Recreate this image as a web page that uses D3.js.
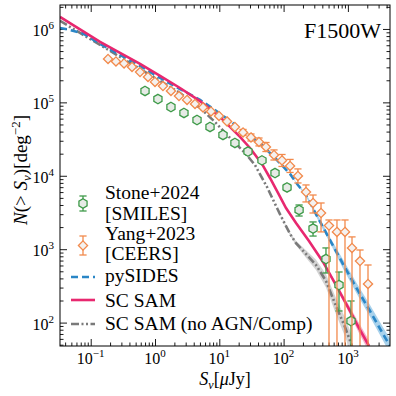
<!DOCTYPE html>
<html>
<head>
<meta charset="utf-8">
<script src="https://d3js.org/d3.v7.min.js"></script>
<style>
  body { margin:0; background:#fff; }
  svg { font-family: "Liberation Serif", "DejaVu Serif", serif; }
</style>
</head>
<body>
<div id="chart"></div>
<script>
// Yang+2023 [CEERS] cumulative counts
const yangFlux = [0.186, 0.247, 0.330, 0.439, 0.585, 0.778, 1.00, 1.33, 1.77, 2.36, 3.15, 4.19, 5.58, 7.43, 9.89, 13.2, 17.5,
                  23.4, 31.1, 41.4, 53.2, 70.9, 94.4, 126, 167, 223, 287, 382, 508, 676, 901, 1158, 1542, 2054];
const yangN = [390e3, 361e3, 339e3, 304e3, 259e3, 222e3, 190e3, 167e3, 143e3, 122e3, 108e3, 95.1e3, 85.2e3, 75.2e3, 65.3e3, 55.0e3, 46.2e3,
               38.9e3, 33.3e3, 28.9e3, 24.7e3, 19.2e3, 16.2e3, 13.6e3, 9.94e3, 6.01e3, 4.26e3, 3.11e3, 2.10e3, 1.72e3, 1.72e3, 1.04e3, 690, 336];
const yangHi = [null, null, null, null, null, null, null, null, null, null, null, null, null, null, null, null, null,
                42.8e3, 37.1e3, 32.7e3, 28.4e3, 22.5e3, 19.5e3, 16.7e3, 12.4e3, 7.50e3, 5.47e3, 4.26e3, 2.50e3, 2.50e3, 2.50e3, 1.47e3, 975, 609];
const yangLo = [null, null, null, null, null, null, null, null, null, null, null, null, null, null, null, null, null,
                35.4e3, 29.8e3, 25.5e3, 21.4e3, 16.4e3, 13.4e3, 11.1e3, 7.98e3, 4.40e3, 3.11e3, 1.72e3, 0, 0, 0, 0, 0, 0];

// Stone+2024 [SMILES]
const stoneFlux = [0.699, 1.11, 1.77, 2.82, 4.50, 7.17, 11.4, 17.5, 27.9, 46.1, 73.5, 113, 174, 287, 456, 727, 1117];
const stoneN = [143e3, 111e3, 86.5e3, 71.7e3, 57.5e3, 46.2e3, 36.0e3, 28.0e3, 21.4e3, 16.2e3, 10.9e3, 6.93e3, 3.42e3, 1.91e3, 734, 325, 105];
const stoneHi = [null, null, null, null, null, null, null, null, null, null, null, 7.61e3, 4.00e3, 2.35e3, 1.04e3, 489, 197];
const stoneLo = [null, null, null, null, null, null, null, null, null, null, null, 6.31e3, 2.83e3, 1.51e3, 474, 144, 0];

// pySIDES (band half-width in dex)
const sidesFlux = [0.0333, 0.0477, 0.0759, 0.140, 0.286, 0.585, 1.20, 2.45, 5.01, 8.57, 14.7, 25.1, 42.9, 78.9, 126, 167,
                   223, 331, 527, 839, 1386, 2207, 3513, 4514];
const sidesN = [1.03e6, 9.69e5, 8.68e5, 6.25e5, 4.42e5, 3.13e5, 2.15e5, 1.52e5, 1.08e5, 7.87e4, 5.58e4, 3.83e4, 2.80e4, 1.64e4, 1.06e4, 7.50e3,
                5.48e3, 2.83e3, 1.33e3, 628, 287, 144, 70.0, 48.0];
const sidesBand = [0, 0, 0, 0, 0, 0, 0, 0, 0, 0, 0, 0, 0, 0, 0, 0.01, 0.02, 0.03, 0.04, 0.06, 0.07, 0.08, 0.09, 0.10];

// SC SAM
const samFlux = [0.0333, 0.0682, 0.140, 0.286, 0.585, 1.20, 2.45, 5.01, 10.3, 21.0, 30.0, 46.1, 61.4, 81.8, 109, 156, 248, 410, 653, 1040, 1489, 2129];
const samN = [1.46e6, 9.84e5, 6.66e5, 4.71e5, 3.34e5, 2.29e5, 1.57e5, 1.04e5, 6.32e4, 3.38e4, 2.39e4, 1.45e4, 9.33e3, 5.83e3, 3.64e3, 2.28e3,
              1.29e3, 670, 325, 153, 84.3, 48.0];
const samBand = [0, 0, 0, 0, 0, 0, 0, 0, 0, 0, 0, 0, 0, 0, 0, 0, 0.01, 0.02, 0.03, 0.05, 0.07, 0.08];

// SC SAM (no AGN/Comp)
const noAgnFlux = [0.0333, 0.0682, 0.140, 0.286, 0.585, 1.20, 2.45, 5.01, 8.57, 14.7, 25.1, 35.9, 55.2, 78.9, 101, 126, 156,
                   223, 319, 456, 653, 901, 1158];
const noAgnN = [1.29e6, 8.83e5, 6.06e5, 4.16e5, 2.85e5, 1.96e5, 1.34e5, 8.39e4, 5.41e4, 3.27e4, 2.05e4, 1.40e4, 7.04e3, 3.64e3, 2.35e3, 1.61e3, 1.21e3,
                861, 610, 369, 168, 87.1, 48.0];
const noAgnBand = [0, 0, 0, 0, 0, 0, 0, 0, 0, 0, 0, 0, 0, 0, 0.01, 0.02, 0.03, 0.05, 0.07, 0.09, 0.11, 0.13, 0.14];

const xMajor = [0.1, 1, 10, 100, 1000];
const yMajor = [1e2, 1e3, 1e4, 1e5, 1e6];

const W = 396, H = 396;
const margin = {top: 5, right: 6, bottom: 50, left: 60};
const innerW = W - margin.left - margin.right;
const innerH = H - margin.top - margin.bottom;

const cBlue = "#2a86c6", cPink = "#e8286f", cGray = "#7a7a7a", cOrange = "#f28a4c", cGreen = "#3e9a49";

const svg = d3.select("#chart").append("svg").attr("width", W).attr("height", H);
const g = svg.append("g").attr("transform", `translate(${margin.left},${margin.top})`);

svg.append("defs").append("clipPath").attr("id", "clip")
  .append("rect").attr("width", innerW).attr("height", innerH);

const x = d3.scaleLog().domain([0.0333, 4515]).range([0, innerW]);
const y = d3.scaleLog().domain([48, 2.12e6]).range([innerH, 0]);

function minorTicks(scale) {
  const [a, b] = scale.domain();
  const out = [];
  for (let e = Math.floor(Math.log10(a)); e <= Math.ceil(Math.log10(b)); e++)
    for (let k = 2; k <= 9; k++) {
      const v = k * Math.pow(10, e);
      if (v >= a && v <= b) out.push(v);
    }
  return out;
}

// inward ticks on all four sides
function addTicks(axisFn, scale, values, size, tr) {
  g.append("g").attr("transform", tr)
    .call(axisFn(scale).tickValues(values).tickSizeInner(size).tickSizeOuter(0).tickFormat(""))
    .call(s => s.select(".domain").remove())
    .call(s => s.selectAll("line").attr("stroke", "#000").attr("stroke-width", 0.9));
}
[[xMajor, -7], [minorTicks(x), -3.5]].forEach(([v, s]) => {
  addTicks(d3.axisBottom, x, v, s, `translate(0,${innerH})`);
  addTicks(d3.axisTop, x, v, s, "translate(0,0)");
});
[[yMajor, -7], [minorTicks(y), -3.5]].forEach(([v, s]) => {
  addTicks(d3.axisLeft, y, v, s, "translate(0,0)");
  addTicks(d3.axisRight, y, v, s, `translate(${innerW},0)`);
});

function powLabel(sel, v) {
  const e = Math.round(Math.log10(v));
  sel.append("tspan").text("10");
  sel.append("tspan").attr("dy", -7).attr("font-size", 11).text(e < 0 ? "\u2212" + (-e) : String(e));
}
g.append("g").selectAll("text").data(xMajor).join("text")
  .attr("x", d => x(d)).attr("y", innerH + 18)
  .attr("text-anchor", "middle").attr("font-size", 16)
  .each(function(d) { powLabel(d3.select(this), d); });
g.append("g").selectAll("text").data(yMajor).join("text")
  .attr("x", -6).attr("y", d => y(d) + 7)
  .attr("text-anchor", "end").attr("font-size", 16)
  .each(function(d) { powLabel(d3.select(this), d); });

// model curves
const plot = g.append("g").attr("clip-path", "url(#clip)");
const line = d3.line().x(d => x(d[0])).y(d => y(d[1]));
const band = d3.area().x(d => x(d[0]))
  .y0(d => y(d[1] / Math.pow(10, d[2]))).y1(d => y(d[1] * Math.pow(10, d[2])));

function curve(fx, fy, fb, color, fill, dash) {
  const pts = fx.map((v, i) => [v, fy[i], fb[i]]);
  const first = Math.max(0, fb.findIndex(b => b > 0) - 1);
  plot.append("path").attr("d", band(pts.slice(first)))
    .attr("fill", fill).attr("stroke", "none");
  plot.append("path").attr("d", line(pts))
    .attr("fill", "none").attr("stroke", color).attr("stroke-width", 2.6)
    .attr("stroke-dasharray", dash);
}
curve(noAgnFlux, noAgnN, noAgnBand, cGray, "#d4d4d4", "8,2.5,2,2.5,2,2.5");
curve(sidesFlux, sidesN, sidesBand, cBlue, "#a9d2ec", "7,4");
curve(samFlux, samN, samBand, cPink, "#f6b3c9", null);

// observed points
const diamond = "M0,-4.6L4.6,0L0,4.6L-4.6,0Z";
const hexagon = d3.range(6).map(k => {
  const a = Math.PI / 3 * k - Math.PI / 2;
  return (k ? "L" : "M") + (4.7 * Math.cos(a)).toFixed(2) + "," + (4.7 * Math.sin(a)).toFixed(2);
}).join("") + "Z";

function points(fx, fy, hi, lo, color, fill, shape) {
  const pts = fx.map((v, i) => ({x: v, y: fy[i], hi: hi[i], lo: lo[i]}));
  const eb = plot.append("g").attr("stroke", color).attr("stroke-width", 1.3);
  pts.filter(d => d.hi !== null).forEach(d => {
    const px = x(d.x), top = y(d.hi), bot = d.lo > 0 ? y(d.lo) : innerH + 10;
    eb.append("line").attr("x1", px).attr("x2", px).attr("y1", top).attr("y2", bot);
    eb.append("line").attr("x1", px - 3.6).attr("x2", px + 3.6).attr("y1", top).attr("y2", top);
    eb.append("line").attr("x1", px - 3.6).attr("x2", px + 3.6).attr("y1", bot).attr("y2", bot);
  });
  plot.append("g").selectAll("path").data(pts).join("path")
    .attr("d", shape).attr("transform", d => `translate(${x(d.x)},${y(d.y)})`)
    .attr("fill", fill).attr("stroke", color).attr("stroke-width", 1.3);
}
points(stoneFlux, stoneN, stoneHi, stoneLo, cGreen, "#e6ebe6", hexagon);
points(yangFlux, yangN, yangHi, yangLo, cOrange, "#f4f1ef", diamond);

// frame
g.append("rect").attr("width", innerW).attr("height", innerH)
  .attr("fill", "none").attr("stroke", "#000").attr("stroke-width", 1);

// axis labels
const xl = svg.append("text").attr("x", 225).attr("y", 385).attr("text-anchor", "middle").attr("font-size", 18);
xl.append("tspan").attr("font-style", "italic").text("S");
xl.append("tspan").attr("font-style", "italic").attr("font-size", 12).attr("dy", 4).text("ν");
xl.append("tspan").attr("dy", -4).text("[");
xl.append("tspan").attr("font-style", "italic").text("μ");
xl.append("tspan").text("Jy]");

const yl = svg.append("text").attr("transform", "translate(27,170) rotate(-90)")
  .attr("text-anchor", "middle").attr("font-size", 19);
yl.append("tspan").attr("font-style", "italic").text("N");
yl.append("tspan").text("(> ");
yl.append("tspan").attr("font-style", "italic").text("S");
yl.append("tspan").attr("font-style", "italic").attr("font-size", 13).attr("dy", 4).text("ν");
yl.append("tspan").attr("dy", -4).text(")[deg");
yl.append("tspan").attr("font-size", 13).attr("dy", -7).text("\u22122");
yl.append("tspan").attr("dy", 7).text("]");

svg.append("text").attr("x", 381).attr("y", 38).attr("text-anchor", "end")
  .attr("font-size", 22).text("F1500W");

// legend
const leg = svg.append("g");
function legErr(cy, half, color, fill, shape) {
  const e = leg.append("g").attr("stroke", color).attr("stroke-width", 1.3);
  e.append("line").attr("x1", 83).attr("x2", 83).attr("y1", cy - half).attr("y2", cy + half);
  e.append("line").attr("x1", 79.4).attr("x2", 86.6).attr("y1", cy - half).attr("y2", cy - half);
  e.append("line").attr("x1", 79.4).attr("x2", 86.6).attr("y1", cy + half).attr("y2", cy + half);
  e.append("path").attr("d", shape).attr("transform", `translate(83,${cy})`).attr("fill", fill);
}
legErr(203.5, 7.5, cGreen, "#e6ebe6", hexagon);
legErr(245.5, 9.5, cOrange, "#f4f1ef", diamond);
[[277, cBlue, "7,4"], [300, cPink, null], [324, cGray, "8,2.5,2,2.5,2,2.5"]].forEach(([cy, c, d]) => {
  leg.append("line").attr("x1", 71).attr("x2", 95).attr("y1", cy).attr("y2", cy)
    .attr("stroke", c).attr("stroke-width", 2.6).attr("stroke-dasharray", d);
});
const legText = [["Stone+2024", 199], ["[SMILES]", 220], ["Yang+2023", 240], ["[CEERS]", 260],
                 ["pySIDES", 282], ["SC SAM", 307], ["SC SAM (no AGN/Comp)", 330]];
leg.selectAll("text").data(legText).join("text")
  .attr("x", 105).attr("y", d => d[1]).attr("font-size", 19.5).text(d => d[0]);
</script>
</body>
</html>
